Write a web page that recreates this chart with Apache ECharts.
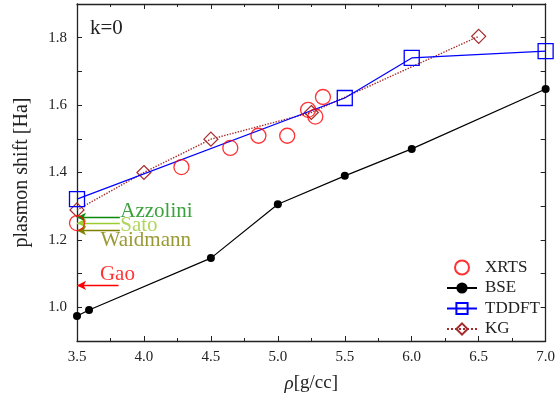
<!DOCTYPE html>
<html>
<head>
<meta charset="utf-8">
<script src="https://cdn.jsdelivr.net/npm/echarts@6/dist/echarts.min.js"></script>
<style>
  html, body { margin: 0; padding: 0; background: #fff; }
  #chart { width: 558px; height: 401px; }
</style>
</head>
<body>
<div id="chart"></div>
<script>
var FONT = 'Liberation Serif';

// measured points [density g/cc, plasmon shift Ha]
var xrts = [[3.5, 1.25], [4.28, 1.416], [4.645, 1.473], [4.855, 1.509], [5.07, 1.509],
            [5.226, 1.586], [5.28, 1.566], [5.337, 1.624]];
var bse = [[3.5, 0.974], [3.59, 0.992], [4.5, 1.146], [5.0, 1.306], [5.5, 1.39], [6.0, 1.47], [7.0, 1.648]];
var tddft = [[3.5, 1.321], [5.5, 1.621], [6.0, 1.74], [7.0, 1.76]];
var kg = [[3.5, 1.289], [4.0, 1.40], [4.5, 1.499], [5.25, 1.578], [6.5, 1.804]];

// literature values drawn as arrows pointing at the axis
var refNames = ['Azzolini', 'Sato', 'Waidmann', 'Gao'];
var refValues = [1.267, 1.25, 1.228, 1.065];
var refColors = ['#0a8a0a', '#9acd32', '#808000', '#ff0000'];
var refTail = [3.82, 3.82, 3.82, 3.81];
var refTextPos = [[3.823, 1.284], [3.823, 1.242], [3.676, 1.197], [3.671, 1.096]];

var xTicks = { min: 3.5, max: 7.0, step: 0.5 };
var yTicks = { min: 0.9, max: 1.9, step: 0.1 };

var chart = echarts.init(document.getElementById('chart'));

var yFmt = function (v) {
    var k = Math.round(v * 10);
    return k % 2 === 0 ? (k / 10).toFixed(1) : '';
};

var axisBase = function (t, minor) {
    return {
        type: 'value',
        min: t.min,
        max: t.max,
        interval: t.step,
        axisLine: { show: true, lineStyle: { color: '#222', width: 1.3 } },
        axisTick: { show: true, inside: true, length: 5, lineStyle: { color: '#222', width: 1 } },
        minorTick: { show: minor, splitNumber: 2, length: 3, lineStyle: { color: '#222', width: 1 } },
        splitLine: { show: false },
        minorSplitLine: { show: false }
    };
};

var xBottom = axisBase(xTicks, true);
xBottom.position = 'bottom';
xBottom.name = '{i|ρ}[g/cc]';
xBottom.nameLocation = 'middle';
xBottom.nameGap = 33;
xBottom.nameTextStyle = { fontFamily: FONT, fontSize: 19, color: '#222', rich: { i: { fontFamily: FONT, fontStyle: 'italic', fontSize: 19, color: '#222' } } };
xBottom.axisLabel = { fontFamily: FONT, fontSize: 15, color: '#222', margin: 9, formatter: function (v) { return v.toFixed(1); } };

var xTop = axisBase(xTicks, true);
xTop.position = 'top';
xTop.axisLabel = { show: false };

var yLeft = axisBase(yTicks, false);
yLeft.position = 'left';
yLeft.name = 'plasmon shift [Ha]';
yLeft.nameLocation = 'middle';
yLeft.nameGap = 45;
yLeft.nameTextStyle = { fontFamily: FONT, fontSize: 20, color: '#222' };
yLeft.axisLabel = { fontFamily: FONT, fontSize: 15, color: '#222', margin: 10, formatter: yFmt };

var yRight = axisBase(yTicks, false);
yRight.position = 'right';
yRight.axisLabel = { show: false };

var series = [{
    name: 'XRTS',
    type: 'scatter',
    data: xrts,
    symbol: 'circle',
    symbolSize: 15,
    itemStyle: { color: 'rgba(0,0,0,0)', borderColor: '#ff0000', borderWidth: 1.3 },
    z: 5
}, {
    name: 'BSE',
    type: 'line',
    data: bse,
    symbol: 'circle',
    symbolSize: 8,
    showSymbol: true,
    lineStyle: { color: '#000', width: 1.2 },
    itemStyle: { color: '#000' },
    z: 3
}, {
    name: 'TDDFT',
    type: 'line',
    data: tddft,
    symbol: 'rect',
    symbolSize: 15,
    lineStyle: { color: '#0000ff', width: 1.2 },
    itemStyle: { color: 'rgba(0,0,0,0)', borderColor: '#0000ff', borderWidth: 1.3 },
    z: 4
}, {
    name: 'KG',
    type: 'line',
    data: kg,
    symbol: 'diamond',
    symbolSize: 14,
    lineStyle: { color: '#a52a2a', width: 1.4, type: 'dotted' },
    itemStyle: { color: 'rgba(0,0,0,0)', borderColor: '#a52a2a', borderWidth: 1.2 },
    z: 3
}];

// arrows and their labels
for (var i = 0; i < refNames.length; i++) {
    series.push({
        name: refNames[i],
        type: 'scatter',
        data: [{ value: refTextPos[i], name: refNames[i] }],
        symbolSize: 0,
        silent: true,
        label: {
            show: true,
            position: 'right',
            distance: 0,
            formatter: '{b}',
            fontFamily: FONT,
            fontSize: 21,
            color: refColors[i]
        },
        markLine: {
            silent: true,
            symbol: ['none', 'arrow'],
            symbolSize: [7, 9],
            label: { show: false },
            lineStyle: { color: refColors[i], width: 1.3, type: 'solid' },
            data: [[{ coord: [refTail[i], refValues[i]] }, { coord: [xTicks.min, refValues[i]] }]]
        },
        z: 6
    });
}

chart.setOption({
    animation: false,
    backgroundColor: '#fff',
    title: {
        text: 'k=0',
        left: 85,
        top: 13,
        textStyle: { fontFamily: FONT, fontSize: 21, fontWeight: 'normal', color: '#222' }
    },
    grid: { left: 77, right: 10, top: 4, bottom: 60, containLabel: false },
    legend: {
        data: ['XRTS', 'BSE', 'TDDFT', 'KG'],
        orient: 'vertical',
        left: 441,
        top: 254,
        itemWidth: 30,
        itemHeight: 14,
        itemGap: 3.5,
        textStyle: { fontFamily: FONT, fontSize: 17, lineHeight: 17, color: '#222', padding: [0, 0, 0, 3] }
    },
    xAxis: [xBottom, xTop],
    yAxis: [yLeft, yRight],
    series: series
});
</script>
</body>
</html>
